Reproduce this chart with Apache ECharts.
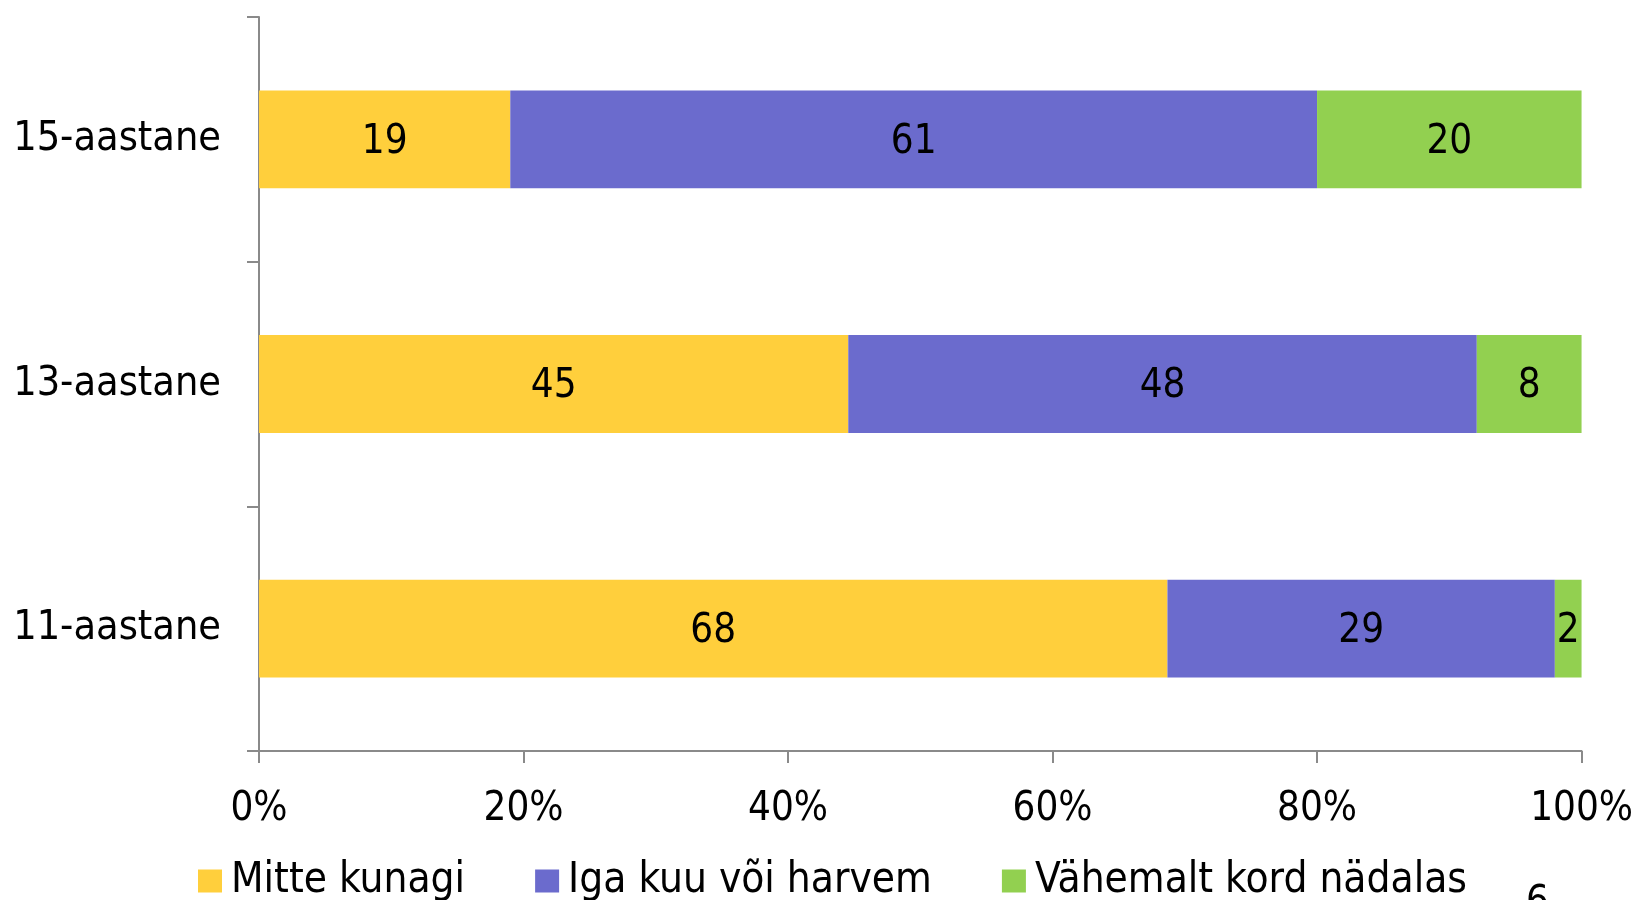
<!DOCTYPE html>
<html>
<head>
<meta charset="utf-8">
<script src="https://cdn.jsdelivr.net/npm/echarts@6/dist/echarts.min.js"></script>
<style>
  html, body { margin: 0; padding: 0; background: #fff; }
  #chart { width: 1636px; height: 900px; }
</style>
</head>
<body>
<div id="chart"></div>
<script>
// vanuserühmad (alt üles)
const categories = ["11-aastane", "13-aastane", "15-aastane"];
const seriesNames = ["Mitte kunagi", "Iga kuu või harvem", "Vähemalt kord nädalas"];
const mitteKunagi = [68, 45, 19];
const igaKuu = [29, 48, 61];
const vahemalt = [2, 8, 20];
const xTicks = [0, 20, 40, 60, 80, 100];

const colors = ["#FFCF3C", "#6B6BCD", "#92D050"];
const font = "'DejaVu Sans Condensed', 'DejaVu Sans'";

// 100% tulbad: iga rida jagatakse oma summaga
var rows = [mitteKunagi, igaKuu, vahemalt];
var totals = categories.map(function (c, i) {
  return mitteKunagi[i] + igaKuu[i] + vahemalt[i];
});

var series = rows.map(function (arr, s) {
  return {
    name: seriesNames[s],
    type: "bar",
    stack: "total",
    barCategoryGap: "60%",
    itemStyle: { color: colors[s] },
    label: {
      show: true,
      position: "inside",
      offset: [0, 3],
      color: "#000",
      fontFamily: font,
      fontSize: 40,
      formatter: function (p) { return arr[p.dataIndex]; }
    },
    data: arr.map(function (v, i) { return v / totals[i] * 100; })
  };
});

var chart = echarts.init(document.getElementById("chart"));
chart.setOption({
  animation: false,
  color: colors,
  grid: { left: 259, right: 53, top: 17, bottom: 149, containLabel: false },
  legend: {
    left: 193,
    top: 855,
    icon: "rect",
    itemWidth: 24,
    itemHeight: 23,
    itemGap: 70,
    textStyle: { fontFamily: font, fontSize: 42, color: "#000", padding: [0, 0, 0, 4] },
    data: seriesNames
  },
  xAxis: {
    type: "value",
    min: 0,
    max: 100,
    interval: 20,
    splitLine: { show: false },
    axisLine: { show: true, lineStyle: { color: "#8a8a8a", width: 2 } },
    axisTick: { show: true, length: 12, lineStyle: { color: "#8a8a8a", width: 2 } },
    axisLabel: {
      margin: 39,
      fontFamily: font,
      fontSize: 40,
      color: "#000",
      formatter: function (v) { return xTicks.indexOf(v) >= 0 ? v + "%" : ""; }
    }
  },
  yAxis: {
    type: "category",
    data: categories,
    axisLine: { show: true, lineStyle: { color: "#8a8a8a", width: 2 } },
    axisTick: { show: true, length: 12, lineStyle: { color: "#8a8a8a", width: 2 } },
    axisLabel: { margin: 38, padding: [6, 0, 0, 0], fontFamily: font, fontSize: 41, color: "#000" }
  },
  graphic: [{
    type: "text",
    left: 1526,
    top: 884,
    style: { text: "6", fontFamily: font, fontSize: 40, fill: "#000" }
  }],
  series: series
});
</script>
</body>
</html>
